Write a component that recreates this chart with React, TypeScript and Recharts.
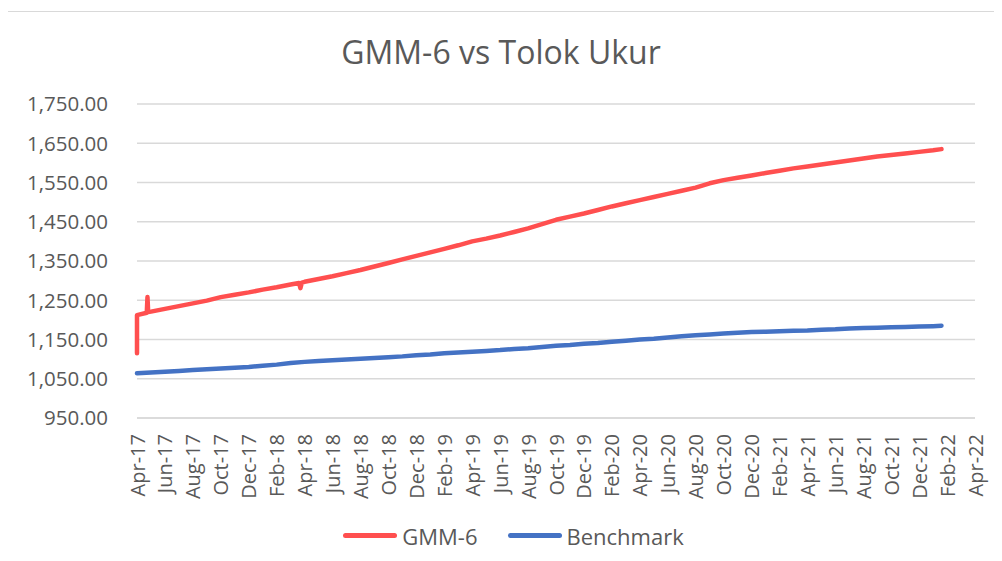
import { CartesianGrid, Legend, Line, LineChart, XAxis, YAxis } from "recharts"

// month index counted from Apr-17
const months = [
  0, 1, 2, 3, 4, 5, 6, 7, 8, 9, 10, 11, 12, 13, 14, 15, 16, 17, 18, 19, 20, 21, 22, 23, 24, 25, 26, 27, 28, 29,
  30, 31, 32, 33, 34, 35, 36, 37, 38, 39, 40, 41, 42, 43, 44, 45, 46, 47, 48, 49, 50, 51, 52, 53, 54, 55, 56, 57, 57.6,
]

const gmm6 = [
  1212, 1221, 1228, 1235, 1242, 1249, 1258, 1264, 1270, 1277, 1283, 1290, 1297, 1304, 1311, 1319, 1327, 1336, 1345, 1354,
  1363, 1372, 1381, 1390, 1400, 1407, 1415, 1424, 1433, 1444, 1455, 1463, 1471, 1480, 1489, 1497, 1505, 1513, 1521, 1529,
  1537, 1548, 1556, 1562, 1568, 1574, 1580, 1586, 1591, 1596, 1601, 1606, 1611, 1616, 1620, 1624, 1628, 1632, 1635,
]

const benchmark = [
  1064, 1066, 1068, 1070, 1072, 1074, 1076, 1078, 1080, 1083, 1086, 1090, 1093, 1095, 1097, 1099, 1101, 1103, 1105, 1107,
  1110, 1112, 1115, 1117, 1119, 1121, 1123, 1126, 1128, 1131, 1134, 1136, 1139, 1141, 1144, 1147, 1150, 1152, 1155, 1158,
  1161, 1163, 1165, 1167, 1169, 1170, 1171, 1172, 1173, 1175, 1176, 1178, 1179, 1180, 1181, 1182, 1183, 1184, 1185,
]

// odd spikes in the GMM-6 series
const glitchMonths = [0, 0.7, 0.75, 0.8, 11.6, 11.7, 11.8]
const glitchValues = [1115, 1218, 1258, 1220, 1294, 1281, 1295]

const tickLabels = [
  "Apr-17", "Jun-17", "Aug-17", "Oct-17", "Dec-17", "Feb-18", "Apr-18", "Jun-18", "Aug-18", "Oct-18", "Dec-18",
  "Feb-19", "Apr-19", "Jun-19", "Aug-19", "Oct-19", "Dec-19", "Feb-20", "Apr-20", "Jun-20", "Aug-20", "Oct-20",
  "Dec-20", "Feb-21", "Apr-21", "Jun-21", "Aug-21", "Oct-21", "Dec-21", "Feb-22", "Apr-22",
]
const yTicks = [950, 1050, 1150, 1250, 1350, 1450, 1550, 1650, 1750]

const gmmData = [
  ...glitchMonths.map((m, i) => ({ m, v: glitchValues[i] })),
  ...months.map((m, i) => ({ m, v: gmm6[i] })),
].sort((a, b) => a.m - b.m)
const benchData = months.map((m, i) => ({ m, v: benchmark[i] }))
const xTicks = tickLabels.map((_, i) => i * 2)

const FONT = "'Open Sans', sans-serif"
const TXT = "#595959"
const RED = "#FF4F4F"
const BLUE = "#4472C4"

const fmt = (v: number) =>
  v.toLocaleString("en-US", { minimumFractionDigits: 2, maximumFractionDigits: 2 })

function XTick({ x, y, payload }: any) {
  return (
    <g transform={`translate(${x},${y})`}>
      <text
        transform="rotate(-90)"
        x={-8}
        y={0}
        textAnchor="end"
        dominantBaseline="central"
        fill={TXT}
        fontSize={20}
        fontFamily={FONT}
      >
        {tickLabels[Math.round(payload.value / 2)]}
      </text>
    </g>
  )
}

function LegendBox() {
  const item = (color: string, label: string) => (
    <div style={{ display: "flex", alignItems: "center", marginRight: 30 }}>
      <div style={{ width: 54, height: 5, borderRadius: 3, background: color, marginRight: 5 }} />
      <span style={{ fontSize: 22, color: TXT, fontFamily: FONT }}>{label}</span>
    </div>
  )
  return (
    <div style={{ display: "flex", justifyContent: "center", alignItems: "center", height: 43, paddingLeft: 82 }}>
      {item(RED, "GMM-6")}
      {item(BLUE, "Benchmark")}
    </div>
  )
}

export default function App() {
  return (
    <div style={{ position: "relative", margin: -8, width: 1002, height: 561, overflow: "hidden", background: "#fff" }}>
      <div
        style={{
          position: "absolute",
          left: 2,
          top: 11,
          width: 1100,
          height: 700,
          border: "1px solid #d9d9d9",
        }}
      />
      <div
        style={{
          position: "absolute",
          top: 30,
          left: 0,
          width: 1002,
          textAlign: "center",
          fontFamily: FONT,
          fontSize: 32,
          color: TXT,
        }}
      >
        GMM-6 vs Tolok Ukur
      </div>
      <div style={{ position: "absolute", left: 0, top: 0 }}>
        <LineChart width={1002} height={561} margin={{ top: 104, right: 27, bottom: 4, left: 0 }}>
          <CartesianGrid vertical={false} stroke="#d9d9d9" strokeWidth={1.5} />
          <XAxis
            type="number"
            dataKey="m"
            domain={[0, 60]}
            ticks={xTicks}
            interval={0}
            tick={<XTick />}
            tickLine={false}
            axisLine={{ stroke: "#d9d9d9", strokeWidth: 1.5 }}
            height={96}
          />
          <YAxis
            type="number"
            domain={[950, 1750]}
            ticks={yTicks}
            interval={0}
            width={137}
            tickLine={false}
            axisLine={false}
            tickSize={0}
            tickMargin={29}
            tickFormatter={fmt}
            tick={{ fill: TXT, fontSize: 20.5, fontFamily: FONT }}
          />
          <Legend verticalAlign="bottom" height={43} content={<LegendBox />} />
          <Line
            data={gmmData}
            dataKey="v"
            name="GMM-6"
            stroke={RED}
            strokeWidth={4.5}
            dot={false}
            strokeLinecap="round"
            strokeLinejoin="round"
            isAnimationActive={false}
          />
          <Line
            data={benchData}
            dataKey="v"
            name="Benchmark"
            stroke={BLUE}
            strokeWidth={4.5}
            dot={false}
            strokeLinecap="round"
            strokeLinejoin="round"
            isAnimationActive={false}
          />
        </LineChart>
      </div>
    </div>
  )
}
